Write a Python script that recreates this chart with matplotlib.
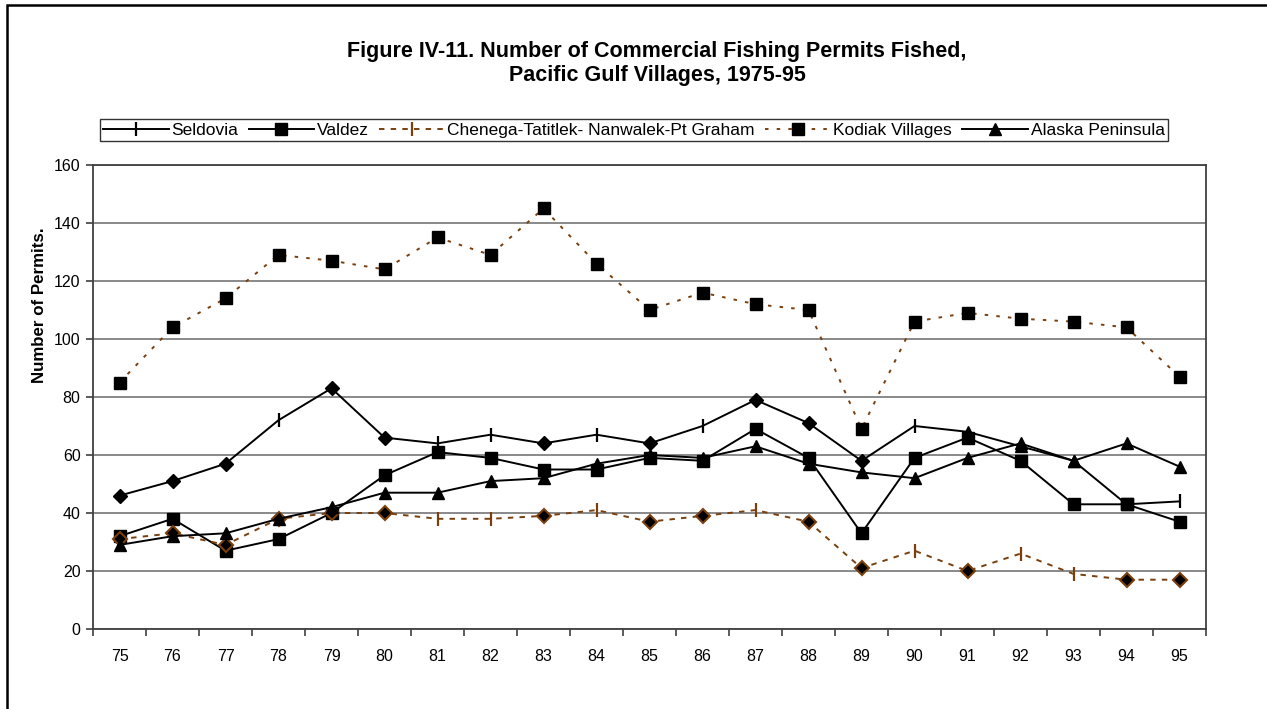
import matplotlib
matplotlib.use("Agg")
import matplotlib.pyplot as plt
import matplotlib as mpl
from matplotlib.lines import Line2D
from matplotlib.patches import Rectangle

# === Setup ===
mpl.rcParams['font.family'] = ['Liberation Sans', 'DejaVu Sans']
mpl.rcParams['xtick.direction'] = 'out'
mpl.rcParams['ytick.direction'] = 'out'

brown = '#7a3f0c'

# === Data ===
years = [75, 76, 77, 78, 79, 80, 81, 82, 83, 84, 85, 86, 87, 88, 89, 90, 91, 92, 93, 94, 95]
year_labels = [str(y) for y in years]

seldovia = [46, 51, 57, 72, 83, 66, 64, 67, 64, 67, 64, 70, 79, 71, 58, 70, 68, 63, 58, 43, 44]
valdez = [32, 38, 27, 31, 40, 53, 61, 59, 55, 55, 59, 58, 69, 59, 33, 59, 66, 58, 43, 43, 37]
chenega = [31, 33, 29, 38, 40, 40, 38, 38, 39, 41, 37, 39, 41, 37, 21, 27, 20, 26, 19, 17, 17]
kodiak = [85, 104, 114, 129, 127, 124, 135, 129, 145, 126, 110, 116, 112, 110, 69, 106, 109, 107, 106, 104, 87]
alaska = [29, 32, 33, 38, 42, 47, 47, 51, 52, 57, 60, 59, 63, 57, 54, 52, 59, 64, 58, 64, 56]

# per-point markers as they appear in the original
seldovia_marks = ['D', 'D', 'D', '|', 'D', 'D', '|', '|', 'D', '|', 'D', '|', 'D', 'D', 'D', '|', '^', '^', '^', 's', '|']
chenega_marks = ['D', 'D', 'D', 'D', 'D', 'D', '|', '|', 'D', '|', 'D', 'D', '|', 'D', 'D', '|', 'D', '|', '|', 'D', 'D']

series = [
    ("Seldovia", seldovia, seldovia_marks, dict(color='black', ls='-'), '|'),
    ("Valdez", valdez, ['s'] * len(years), dict(color='black', ls='-'), 's'),
    ("Chenega-Tatitlek- Nanwalek-Pt Graham", chenega, chenega_marks,
     dict(color=brown, ls=(0, (2.8, 3.2))), '|'),
    ("Kodiak Villages", kodiak, ['s'] * len(years), dict(color=brown, ls=(0, (1.8, 4.2))), 's'),
    ("Alaska Peninsula", alaska, ['^'] * len(years), dict(color='black', ls='-'), '^'),
]


def marker_style(m, line_color):
    if m == '|':
        return dict(marker='|', markersize=10, mew=1.6, color=line_color)
    if m == 'D':
        if line_color == brown:
            return dict(marker='D', markersize=7, mfc='black', mec=brown, mew=1.5)
        return dict(marker='D', markersize=7.5, mfc='black', mec='black', mew=1)
    if m == 's':
        return dict(marker='s', markersize=8, mfc='black', mec='black', mew=1)
    return dict(marker='^', markersize=8.5, mfc='black', mec='black', mew=1)


# === Plotting ===
fig = plt.figure(figsize=(12.67, 7.09), dpi=100)
ax = fig.add_axes([93 / 1267, 1 - 629 / 709, (1206 - 93) / 1267, (629 - 165) / 709])

handles = []
for k, (name, vals, marks, style, leg_m) in enumerate(series):
    z = 3 + k
    ax.plot(years, vals, lw=1.4, zorder=z, **style)
    for m in sorted(set(marks)):
        xs = [x for x, mm in zip(years, marks) if mm == m]
        ys = [v for v, mm in zip(vals, marks) if mm == m]
        ax.plot(xs, ys, ls='none', zorder=z + 0.5, **marker_style(m, style['color']))
    ms = marker_style(leg_m, style['color'])
    handles.append(Line2D([], [], lw=1.4, label=name, **{**ms, **style}))

ax.set_xlim(74.5, 95.5)
ax.set_ylim(0, 160)
ax.set_yticks(range(0, 161, 20))
ax.yaxis.grid(True, color='#808080', lw=1.3)
ax.set_axisbelow(True)
ax.tick_params(axis='y', labelsize=11.5, length=5, width=1.2, color='#404040', pad=4)

ax.set_xticks(years)
ax.set_xticklabels(year_labels)
ax.set_xticks([y + 0.5 for y in [74] + years], minor=True)
ax.tick_params(axis='x', which='major', length=0, labelsize=11.5, pad=14.5)
ax.tick_params(axis='x', which='minor', length=5, width=1.2, color='#404040')
for sp in ax.spines.values():
    sp.set_color('#404040')
    sp.set_linewidth(1.3)

fig.text(40 / 1267, 1 - 305 / 709, "Number of Permits.", rotation=90, fontsize=12.2,
         fontweight='bold', ha='center', va='center')

fig.text(657 / 1267, 1 - 52 / 709, "Figure IV-11. Number of Commercial Fishing Permits Fished,",
         fontsize=15.5, fontweight='bold', ha='center', va='center')
fig.text(657 / 1267, 1 - 76 / 709, "Pacific Gulf Villages, 1975-95",
         fontsize=15.5, fontweight='bold', ha='center', va='center')

leg = fig.legend(handles=handles, loc='center', bbox_to_anchor=(634 / 1267, 1 - 130 / 709),
                 ncol=5, fontsize=12.5, frameon=True, fancybox=False, edgecolor='black',
                 handlelength=3.75, handletextpad=0.17, columnspacing=0.6,
                 borderpad=0.2, borderaxespad=0)
leg.get_frame().set_linewidth(1.0)

# outer chart border
fig.patches.append(Rectangle((7 / 1267, -0.1), 1.2, 1 - 5 / 709 + 0.1, transform=fig.transFigure,
                             fill=False, edgecolor='black', lw=1.8))

plt.savefig("out.png", dpi=100)
